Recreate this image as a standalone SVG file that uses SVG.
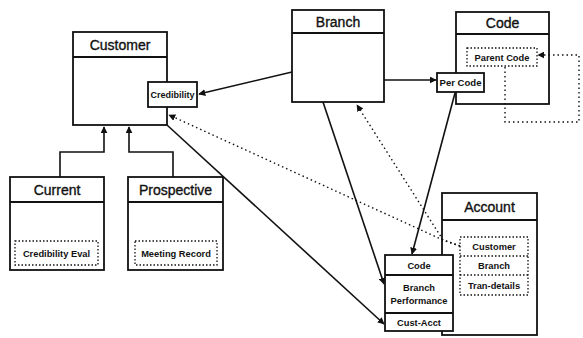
<svg xmlns="http://www.w3.org/2000/svg" width="583" height="338" viewBox="0 0 583 338">
  <defs>
    <style>
      .box { fill: #fff; stroke: #111; stroke-width: 1.8; }
      .sep { stroke: #111; stroke-width: 1.8; }
      .field { fill: none; stroke: #111; stroke-width: 1.3; stroke-dasharray: 1.5 2; }
      .title { font-family: "Liberation Sans", Arial, sans-serif; font-size: 14px; fill: #111; stroke: #111; stroke-width: 0.35; text-anchor: middle; }
      .small { font-family: "Liberation Sans", Arial, sans-serif; font-size: 9.3px; font-weight: bold; fill: #111; text-anchor: middle; }
      .link { fill: none; stroke: #111; stroke-width: 1.6; }
      .ref { fill: none; stroke: #111; stroke-width: 1.4; stroke-dasharray: 1.5 3; }
    </style>
    <marker id="arrow" viewBox="0 0 10 10" refX="9" refY="5" markerWidth="7" markerHeight="7" markerUnits="userSpaceOnUse" orient="auto">
      <path d="M0,0 L10,5 L0,10 z" fill="#111"/>
    </marker>
  </defs>

  <g id="customer">
    <rect class="box" x="73" y="32" width="94" height="93"/>
    <line class="sep" x1="73" y1="57" x2="167" y2="57"/>
    <text class="title" x="120" y="50">Customer</text>
    <rect class="box" x="148" y="82" width="49" height="25"/>
    <text class="small" x="172.5" y="98" textLength="44" lengthAdjust="spacingAndGlyphs">Credibility</text>
  </g>

  <g id="branch">
    <rect class="box" x="292" y="10" width="92" height="92"/>
    <line class="sep" x1="292" y1="33" x2="384" y2="33"/>
    <text class="title" x="338" y="27">Branch</text>
  </g>

  <g id="code">
    <rect class="box" x="456" y="12" width="93" height="92"/>
    <line class="sep" x1="456" y1="34" x2="549" y2="34"/>
    <text class="title" x="502.5" y="28">Code</text>
    <rect class="field" x="467" y="48" width="70" height="18"/>
    <text class="small" x="502" y="60.5">Parent Code</text>
  </g>

  <g id="per-code">
    <rect class="box" x="437" y="73" width="47" height="19"/>
    <text class="small" x="460.5" y="86" textLength="42" lengthAdjust="spacingAndGlyphs">Per Code</text>
  </g>

  <g id="current">
    <rect class="box" x="10" y="177" width="94" height="93"/>
    <line class="sep" x1="10" y1="202" x2="104" y2="202"/>
    <text class="title" x="57" y="195">Current</text>
    <rect class="field" x="15" y="241" width="83" height="24"/>
    <text class="small" x="56.5" y="256.5">Credibility Eval</text>
  </g>

  <g id="prospective">
    <rect class="box" x="128" y="177" width="95" height="93"/>
    <line class="sep" x1="128" y1="202" x2="223" y2="202"/>
    <text class="title" x="175.5" y="195">Prospective</text>
    <rect class="field" x="135" y="241" width="82" height="24"/>
    <text class="small" x="176" y="256.5">Meeting Record</text>
  </g>

  <g id="account">
    <rect class="box" x="442" y="193" width="95" height="142"/>
    <line class="sep" x1="442" y1="220" x2="537" y2="220"/>
    <text class="title" x="489.5" y="212">Account</text>
    <rect class="field" x="460" y="237" width="68" height="58"/>
    <line class="field" x1="460" y1="256" x2="528" y2="256"/>
    <line class="field" x1="460" y1="275" x2="528" y2="275"/>
    <text class="small" x="494" y="250">Customer</text>
    <text class="small" x="494" y="269">Branch</text>
    <text class="small" x="494" y="288.5">Tran-details</text>
  </g>

  <g id="branch-performance">
    <rect class="box" x="385" y="255" width="68" height="76"/>
    <line class="sep" x1="385" y1="275" x2="453" y2="275"/>
    <line class="sep" x1="385" y1="313" x2="453" y2="313"/>
    <text class="small" x="419" y="268.5">Code</text>
    <text class="small" x="419" y="291">Branch</text>
    <text class="small" x="419" y="304">Performance</text>
    <text class="small" x="419" y="325.5">Cust-Acct</text>
  </g>

  <!-- connectors, drawn over the boxes -->
  <g id="connectors">
    <!-- subtype links -->
    <polyline class="link" points="60,177 60,152 104,152 104,127" marker-end="url(#arrow)"/>
    <polyline class="link" points="173,177 173,152 129,152 129,127" marker-end="url(#arrow)"/>
    <!-- Branch links -->
    <line class="link" x1="292" y1="72" x2="199" y2="94" marker-end="url(#arrow)"/>
    <line class="link" x1="384" y1="80" x2="436" y2="80" marker-end="url(#arrow)"/>
    <line class="link" x1="323" y1="102" x2="384" y2="284" marker-end="url(#arrow)"/>
    <line class="link" x1="167" y1="125" x2="384" y2="324" marker-end="url(#arrow)"/>
    <line class="link" x1="455" y1="93" x2="412" y2="254" marker-end="url(#arrow)"/>
    <!-- references from Account -->
    <polyline class="ref" points="460,246 443,240 357,105" marker-end="url(#arrow)"/>
    <polyline class="ref" points="460,246 443,240 169,115" marker-end="url(#arrow)"/>
    <!-- Parent Code self reference -->
    <polyline class="ref" points="505,67 505,122 579,122 579,55 538,55" marker-end="url(#arrow)"/>
  </g>
</svg>
